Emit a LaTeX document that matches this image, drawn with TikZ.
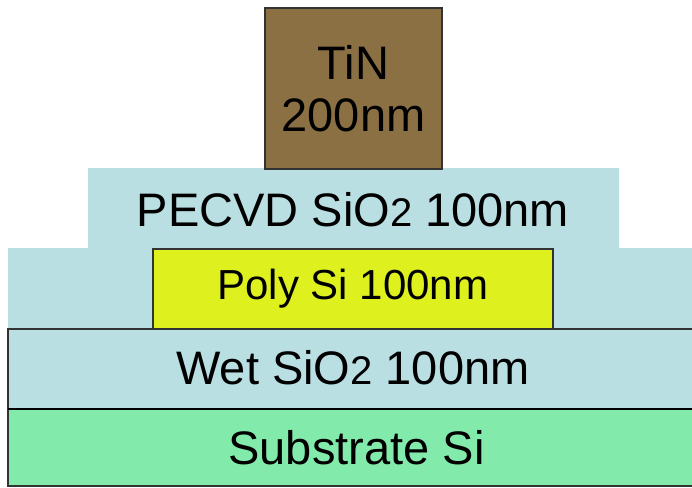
\documentclass[tikz,border=0pt]{standalone}
\usepackage{fontspec}
\setmainfont{Liberation Sans}
\usetikzlibrary{positioning}
\definecolor{oxide}{RGB}{186,223,227}
\definecolor{substr}{RGB}{130,234,170}
\definecolor{polysi}{RGB}{222,240,30}
\definecolor{tin}{RGB}{138,112,67}
\newcommand{\oxtwo}{SiO{\fontsize{40}{42}\selectfont 2}}
\tikzset{
    layer/.style={draw=black!80, line width=1.3pt, inner sep=0pt, outer sep=0pt,
        font=\fontsize{47}{52}\selectfont},
    layertext/.style={inner sep=0pt, font=\fontsize{47}{52}\selectfont}
}

\begin{document}
\begin{tikzpicture}[x=1pt, y=-1pt]
    \useasboundingbox (0,0) rectangle (692,487);
    % PECVD oxide, stepped over the poly
    \fill[oxide] (88,168) -- (619,168) -- (619,248) -- (705,248) -- (705,329)
        -- (8,329) -- (8,248) -- (88,248) -- cycle;
    \node[layertext] (pecvd) at (353,210) {PECVD \oxtwo{} 100nm};

    % stack from the bottom up
    \node[layer, fill=substr, minimum width=697pt, minimum height=77pt] (sub) at (356.5,447.5) {Substrate Si};
    \node[layer, fill=oxide, minimum width=697pt, minimum height=80pt, above=0pt of sub] (wet) {};
    \node[layertext] at (353,368) {Wet \oxtwo{} 100nm};
    \draw[line width=2.5pt] (wet.south west) -- (wet.south east);
    \node[layer, fill=polysi, minimum width=400pt, minimum height=80pt, font=\fontsize{42}{46}\selectfont]
        (poly) at (353,289) {Poly Si 100nm};
    \node[layer, fill=tin, minimum width=177pt, minimum height=161pt, align=center]
        (tin) at (353.5,88.5) {TiN\\200nm};
\end{tikzpicture}
\end{document}
